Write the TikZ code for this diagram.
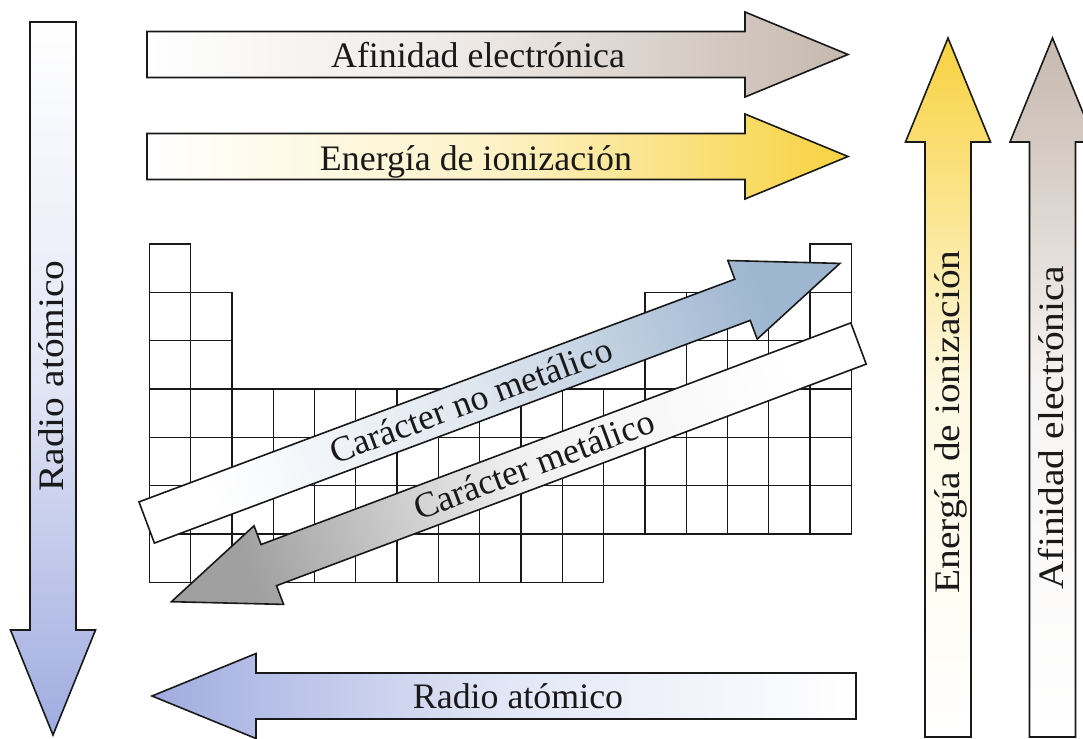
\documentclass[tikz,border=0pt]{standalone}
\usepackage{fontspec}
\setmainfont{Liberation Serif}
\definecolor{radio}{RGB}{160,172,224}
\definecolor{afin}{RGB}{198,184,174}
\definecolor{ener}{RGB}{248,210,64}
\definecolor{nomet}{RGB}{158,182,208}
\definecolor{metal}{RGB}{160,160,160}
\definecolor{ink}{RGB}{25,25,25}
\tikzset{
  arrowshape/.style={draw=ink, line width=1.6bp, line join=miter},
  cellbox/.style={draw=ink, line width=1.35bp},
  lab/.style={font=\fontsize{36}{40}\selectfont, inner sep=0pt, anchor=base, text=ink},
  vlab/.style={lab, rotate=90, xscale=1.1},
  dlab/.style={lab, rotate=20.5},
}
\begin{document}
\begin{tikzpicture}[x=1bp,y=-1bp]
\useasboundingbox[fill=white] (0,0) rectangle (1083,739);
% periodic table grid
\foreach \r/\cs in {0/{0,16},1/{0,1,12,13,14,15,16},2/{0,1,12,13,14,15,16},3/{0,...,16},4/{0,...,16},5/{0,...,16},6/{0,...,10}}{
  \foreach \c in \cs {
    \draw[cellbox] ({149.3+41.3*\c},{244+48.36*\r}) rectangle ++(41.3,48.36);
  }
}
% left vertical: Radio atomico (down)
\shadedraw[arrowshape, top color=white, bottom color=radio, middle color=radio!30!white]
  (30,22) -- (76,22) -- (76,630) -- (95.5,630) -- (53,735) -- (10.5,630) -- (30,630) -- cycle;
% top horizontal: Afinidad electronica
\shadedraw[arrowshape, left color=white, right color=afin, middle color=afin!35!white]
  (147,31.5) -- (745,31.5) -- (745,12) -- (848,54.5) -- (745,97) -- (745,77.5) -- (147,77.5) -- cycle;
% second horizontal: Energia de ionizacion
\shadedraw[arrowshape, left color=white, right color=ener, middle color=ener!30!white]
  (147,133.5) -- (745,133.5) -- (745,114) -- (848,156.5) -- (745,199) -- (745,179.5) -- (147,179.5) -- cycle;
% bottom horizontal: Radio atomico (left)
\shadedraw[arrowshape, left color=radio, right color=white, middle color=radio!30!white]
  (856,673) -- (256,673) -- (256,653.5) -- (152,696) -- (256,738.5) -- (256,719) -- (856,719) -- cycle;
% right vertical: Energia de ionizacion (up)
\shadedraw[arrowshape, top color=ener, bottom color=white, middle color=ener!15!white]
  (925,737) -- (925,142) -- (905.5,142) -- (948,38) -- (990.5,142) -- (971,142) -- (971,737) -- cycle;
% right vertical: Afinidad electronica (up)
\shadedraw[arrowshape, top color=afin, bottom color=white, middle color=afin!15!white]
  (1029.5,737) -- (1029.5,142) -- (1010,142) -- (1052.5,38) -- (1095,142) -- (1075.5,142) -- (1075.5,737) -- cycle;
% diagonal: Caracter no metalico (up-right)
\shadedraw[arrowshape, top color=nomet, bottom color=white, middle color=nomet!35!white, shading angle=-69.5]
  (139.0,501.9) -- (734.8,279.2) -- (727.8,260.5) -- (839.9,263.4) -- (757.2,339.1) -- (750.2,320.4) -- (154.4,543.1) -- cycle;
% diagonal: Caracter metalico (down-left)
\shadedraw[arrowshape, top color=metal, bottom color=white, middle color=metal!15!white, shading angle=110.6]
  (850.8,322.9) -- (261.1,544.5) -- (254.0,525.8) -- (171.4,601.7) -- (283.6,604.4) -- (276.5,585.7) -- (866.2,364.1) -- cycle;
% labels
\node[lab] (afh) at (478,68) {Afinidad electrónica};
\node[lab] (enh) at (476,170) {Energía de ionización};
\node[lab] (rah) at (518,708) {Radio atómico};
\node[vlab] (rav) at (63,376) {Radio atómico};
\node[vlab] (env) at (959,422) {Energía de ionización};
\node[vlab] (afv) at (1063,428) {Afinidad electrónica};
\node[dlab] (nom) at (475,412) {Carácter no metálico};
\node[dlab] (met) at (538,476) {Carácter metálico};
\end{tikzpicture}
\end{document}
